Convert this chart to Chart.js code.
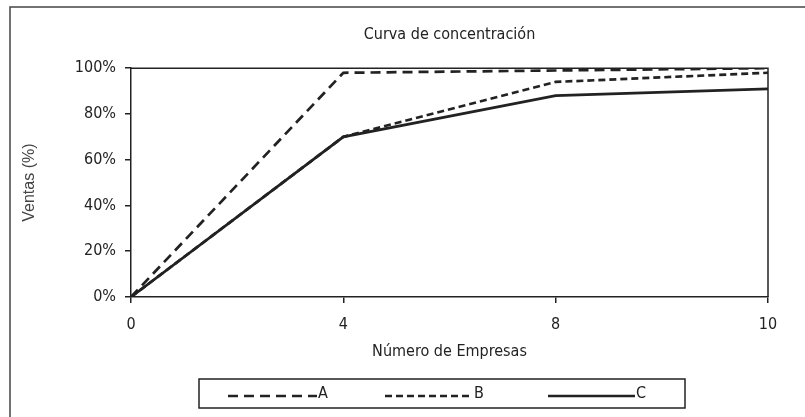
<!DOCTYPE html>
<html>
<head>
<meta charset="utf-8">
<script src="https://cdn.jsdelivr.net/npm/chart.js@4.4.1/dist/chart.umd.min.js"></script>
<style>
  html, body { margin: 0; padding: 0; background: #fff; }
  #wrap { position: relative; width: 805px; height: 417px; }
</style>
</head>
<body>
<div id="wrap"><canvas id="chart" width="805" height="417"></canvas></div>
<script>
// Data
const empresas = ["0", "4", "8", "10"];
const seriesA = [0, 98, 99, 100];
const seriesB = [0, 70, 94, 98];
const seriesC = [0, 70, 88, 91];
const yTicks = [0, 20, 40, 60, 80, 100];

const NARROW = '"Liberation Sans Narrow", "Arial Narrow", "DejaVu Sans Condensed", sans-serif';
const REGULAR = '"Liberation Sans", Arial, sans-serif';
const INK = "#222";

// white page, outer frame (top + left only, picture is cropped)
const backdrop = {
    id: "backdrop",
    beforeDraw(chart) {
        const ctx = chart.ctx;
        ctx.save();
        ctx.fillStyle = "#fff";
        ctx.fillRect(0, 0, chart.width, chart.height);
        ctx.strokeStyle = "#444";
        ctx.lineWidth = 1.5;
        ctx.beginPath();
        ctx.moveTo(10, chart.height);
        ctx.lineTo(10, 7);
        ctx.lineTo(chart.width, 7);
        ctx.stroke();
        ctx.restore();
    },
};

// top and right edges of the plot frame
const plotFrame = {
    id: "plotFrame",
    beforeDatasetsDraw(chart) {
        const { ctx, chartArea: a } = chart;
        ctx.save();
        ctx.strokeStyle = INK;
        ctx.lineWidth = 1.5;
        ctx.beginPath();
        ctx.moveTo(a.left, a.top);
        ctx.lineTo(a.right, a.top);
        ctx.lineTo(a.right, a.bottom);
        ctx.stroke();
        ctx.restore();
    },
};

// boxed legend under the chart
const boxLegend = {
    id: "boxLegend",
    afterDraw(chart) {
        const ctx = chart.ctx;
        const spots = [[228, 317], [385, 473], [548, 635]];
        ctx.save();
        ctx.strokeStyle = INK;
        ctx.lineWidth = 1.5;
        ctx.strokeRect(199, 379, 486, 29);
        ctx.font = "16px " + NARROW;
        ctx.fillStyle = INK;
        ctx.textBaseline = "middle";
        chart.data.datasets.forEach((ds, i) => {
            const [x1, x2] = spots[i];
            ctx.setLineDash(ds.borderDash || []);
            ctx.lineWidth = ds.borderWidth;
            ctx.beginPath();
            ctx.moveTo(x1, 396);
            ctx.lineTo(x2, 396);
            ctx.stroke();
            ctx.setLineDash([]);
            ctx.fillText(ds.label, x2 + 1, 394);
        });
        ctx.restore();
    },
};

new Chart(document.getElementById("chart"), {
    type: "line",
    data: {
        labels: empresas,
        datasets: [
            { label: "A", data: seriesA, borderColor: INK, borderWidth: 2.7, borderDash: [10, 6] },
            { label: "B", data: seriesB, borderColor: INK, borderWidth: 2.7, borderDash: [7, 4] },
            { label: "C", data: seriesC, borderColor: INK, borderWidth: 2.7 },
        ],
    },
    options: {
        responsive: false,
        animation: false,
        devicePixelRatio: 1,
        elements: { point: { radius: 0, hoverRadius: 0 }, line: { tension: 0 } },
        layout: { padding: { left: 0, top: 0, right: 37, bottom: 55 } },
        plugins: {
            legend: { display: false },
            tooltip: { enabled: false },
            title: {
                display: true,
                fullSize: false,
                text: "Curva de concentración",
                color: INK,
                font: { family: NARROW, size: 16, weight: "normal" },
                padding: { top: 25, bottom: 24 },
            },
        },
        scales: {
            x: {
                type: "category",
                offset: false,
                grid: { display: true, drawOnChartArea: false, drawTicks: true, tickLength: 6, color: INK, lineWidth: 1.5 },
                border: { display: true, color: INK, width: 1.5 },
                ticks: { color: INK, padding: 12, font: { family: NARROW, size: 16 }, maxRotation: 0 },
                title: {
                    display: true,
                    text: "Número de Empresas",
                    color: INK,
                    font: { family: NARROW, size: 16 },
                    padding: { top: 0, bottom: 1 },
                },
                afterFit(scale) { scale.height = 65; },
            },
            y: {
                min: 0,
                max: 100,
                afterBuildTicks(scale) { scale.ticks = yTicks.map(v => ({ value: v })); },
                grid: { display: true, drawOnChartArea: false, drawTicks: true, tickLength: 6, color: INK, lineWidth: 1.5 },
                border: { display: true, color: INK, width: 1.5 },
                ticks: { color: INK, padding: 9, font: { family: NARROW, size: 16 }, callback: v => v + "%" },
                title: {
                    display: true,
                    text: "Ventas (%)",
                    color: "#444",
                    font: { family: REGULAR, size: 16 },
                    padding: { top: 20, bottom: 0 },
                },
                afterFit(scale) { scale.width = 131; },
            },
        },
    },
    plugins: [backdrop, plotFrame, boxLegend],
});
</script>
</body>
</html>
